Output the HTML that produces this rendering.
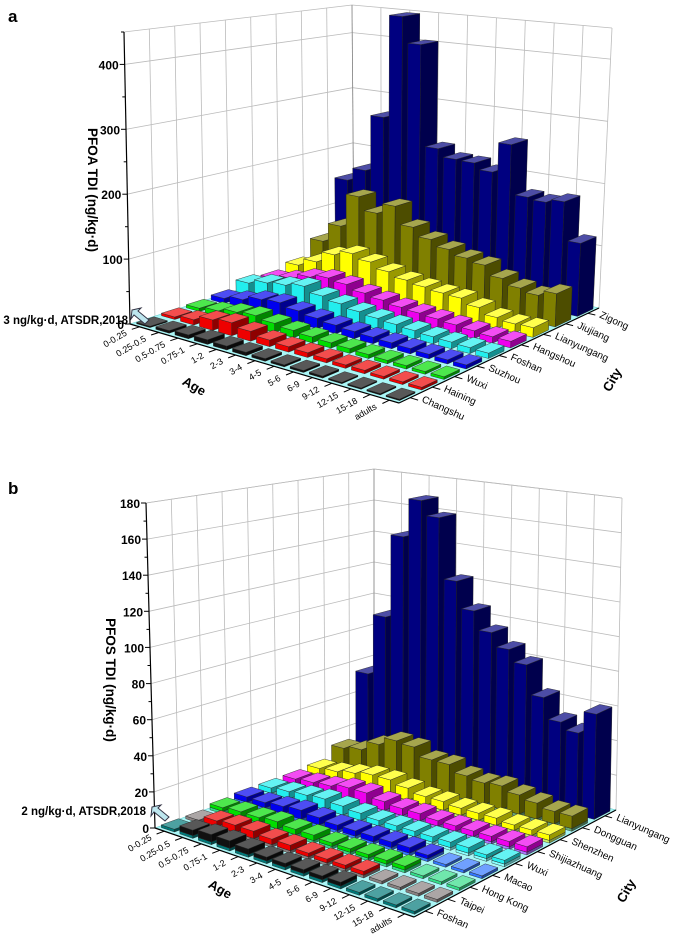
<!DOCTYPE html>
<html><head><meta charset="utf-8"><style>
html,body{margin:0;padding:0;background:#fff}
svg{display:block;font-family:"Liberation Sans",Arial,sans-serif}
</style></head><body>
<svg id="fig" width="685" height="936" viewBox="0 0 685 936" xmlns="http://www.w3.org/2000/svg">
<text x="8" y="22" font-size="17" font-weight="bold">a</text>
<text x="8" y="494" font-size="17" font-weight="bold">b</text>
<g id="chartA"></g>
<g id="chartB"></g>
</svg>
<script>
// ---------- shared categories ----------
const ages = ['0-0.25','0.25-0.5','0.5-0.75','0.75-1','1-2','2-3','3-4','4-5','5-6','6-9','9-12','12-15','15-18','adults'];

// ---------- chart a (PFOA) ----------
const citiesA = ['Changshu','Haining','Wuxi','Suzhou','Foshan','Hangshou','Lianyungang','Jiujiang','Zigong'];
const colorsA = ['#111111','#ee0000','#00dd00','#0000ee','#22eeee','#ee00ee','#ffff00','#808000','#000080'];
const pfoaChangshu = [2,4,6,7,6,5,4,3,3,3,2,2,2,2];
const pfoaHaining = [4,8,16,20,15,10,8,7,6,5,5,4,4,4];
const pfoaWuxi = [5,9,15,18,14,11,9,8,7,6,5,5,4,4];
const pfoaSuzhou = [8,14,22,25,20,16,13,11,10,9,8,7,6,6];
const pfoaFoshan = [20,28,32,38,30,25,20,17,15,13,11,10,9,8];
const pfoaHangshou = [15,22,32,38,35,28,24,20,18,16,14,12,10,10];
const pfoaLianyungang = [24,37,56,65,58,49,42,38,35,34,26,17,14,15];
const pfoaJiujiang = [52,85,142,120,138,109,95,85,77,72,57,48,43,52];
const pfoaZigong = [147,170,268,447,402,229,216,215,205,255,174,171,177,116];
const ticksA = [0,100,200,300,400];

// ---------- chart b (PFOS) ----------
const citiesB = ['Foshan','Taipei','Hong Kong','Macao','Wuxi','Shijiazhuang','Shenzhen','Dongguan','Lianyungang'];
const colorsB = ['#111111','#ee0000','#00dd00','#0000ee','#22eeee','#ee00ee','#ffff00','#808000','#000080'];
const baseColorsB = ['#007878','#888080','#33dd88','#3377ff','#88ffff','#aa77ff','#ccee66','#66aa77','#000080'];
const baseValsB = [1.5,1.5,1.5,1.5,1.5,1.5,1.5,1.5,0];
const pfosFoshan = [0,3,4,4,3,2,2,2,2,2,0,0,0,0];
const pfosTaipei = [0,3,4,4,3,3,2,2,2,2,0,0,0,0];
const pfosHongKong = [2,3,3,4,3,3,2,2,2,2,2,0,0,0];
const pfosMacao = [3,3,4,5,4,3,3,3,3,3,2,0,0,0];
const pfosWuxi = [3,4,5,6,5,4,3,3,3,3,3,3,2,2];
const pfosShijiazhuang = [3,4,5,7,7,5,4,4,3,3,3,3,3,3];
const pfosShenzhen = [4,5,7,9,9,7,5,5,4,4,4,3,3,3];
const pfosDongguan = [11,13,19,24,23,18,18,14,12.5,13.5,11,9,7,7];
const pfosLianyungang = [54,92,144,168,159,122,106,95,87,80,63,51,47,60];
const ticksB = [0,20,40,60,80,100,120,140,160,180];

const seriesA = [pfoaChangshu,pfoaHaining,pfoaWuxi,pfoaSuzhou,pfoaFoshan,pfoaHangshou,pfoaLianyungang,pfoaJiujiang,pfoaZigong];
const seriesB = [pfosFoshan,pfosTaipei,pfosHongKong,pfosMacao,pfosWuxi,pfosShijiazhuang,pfosShenzhen,pfosDongguan,pfosLianyungang];

const NS='http://www.w3.org/2000/svg';
function mk(parent,tag,attrs){const e=document.createElementNS(NS,tag);for(const k in attrs)e.setAttribute(k,attrs[k]);parent.appendChild(e);return e;}
function bil(c,u,v){return [c[0][0]*(1-u)*(1-v)+c[1][0]*u*(1-v)+c[2][0]*u*v+c[3][0]*(1-u)*v,
                         c[0][1]*(1-u)*(1-v)+c[1][1]*u*(1-v)+c[2][1]*u*v+c[3][1]*(1-u)*v];}
function shade(hex,f){const n=parseInt(hex.slice(1),16);let r=n>>16,g=(n>>8)&255,b=n&255;
  if(f<1){r*=f;g*=f;b*=f;}else{const t=f-1;r=r+(255-r)*t;g=g+(255-g)*t;b=b+(255-b)*t;}
  return 'rgb('+Math.round(r)+','+Math.round(g)+','+Math.round(b)+')';}
function pts(a){return a.map(p=>p[0].toFixed(1)+','+p[1].toFixed(1)).join(' ');}

function drawChart(g,cfg){
  const P=(u,v,z)=>{const f=bil(cfg.floor,u,v),t=bil(cfg.top,u,v);return [f[0]+(t[0]-f[0])*z,f[1]+(t[1]-f[1])*z];};
  const zs=val=>val/cfg.max;
  const nI=ages.length,nJ=cfg.cities.length;
  const wall=mk(g,'g',{});
  
  
  const line=(a,b,st,w)=>mk(wall,'line',{x1:a[0].toFixed(1),y1:a[1].toFixed(1),x2:b[0].toFixed(1),y2:b[1].toFixed(1),stroke:st,'stroke-width':w});
  for(const t of cfg.ticks.concat([cfg.max])){ if(t===0)continue;
    line(P(0,0,zs(t)),P(0,1,zs(t)),'#bbb',0.8); line(P(0,1,zs(t)),P(1,1,zs(t)),'#bbb',0.8);}
  for(let k=1;k<=nJ;k++){line(P(0,k/nJ,0),P(0,k/nJ,1),'#bbb',0.8);}
  for(let k=1;k<=9;k++){line(P(k/9,1,0),P(k/9,1,1),'#bbb',0.8);}
  line(P(0,1,0),P(0,1,1),'#888',0.8);
  const fl=mk(g,'polygon',{points:pts([P(0,0,0),P(1,0,0),P(1,1,0),P(0,1,0)]),fill:'#aaf6f6',stroke:'#6cc',"stroke-width":0.6});
  
  
  for(let i=1;i<nI;i++){line(P(i/nI,0,0),P(i/nI,1,0),'#8dd',0.5);}
  for(let j=1;j<nJ;j++){line(P(0,j/nJ,0),P(1,j/nJ,0),'#8dd',0.5);}
  const bars=mk(g,'g',{});
  
  
  const box=(i,j,z0,z1,col,name)=>{
    const u0=(i+0.15)/nI,u1=(i+0.85)/nI,v0=(j+0.15)/nJ,v1=(j+0.85)/nJ;
    const bg=mk(bars,'g',{});
    
    
    mk(bg,'polygon',{points:pts([P(u0,v0,z0),P(u1,v0,z0),P(u1,v0,z1),P(u0,v0,z1)]),fill:col,stroke:'#222','stroke-width':0.4});
    mk(bg,'polygon',{points:pts([P(u1,v0,z0),P(u1,v1,z0),P(u1,v1,z1),P(u1,v0,z1)]),fill:shade(col,0.6),stroke:'#222','stroke-width':0.4});
    mk(bg,'polygon',{points:pts([P(u0,v0,z1),P(u1,v0,z1),P(u1,v1,z1),P(u0,v1,z1)]),fill:shade(col,1.3),stroke:'#222','stroke-width':0.4});
  };
  for(let j=nJ-1;j>=0;j--){for(let i=0;i<nI;i++){
    const b=cfg.base?cfg.base[j]:0, m=cfg.series[j][i];
    if(b>0) box(i,j,0,zs(b),cfg.baseColors[j],'bar-base-'+j+'-'+i);
    if(m>0) box(i,j,zs(b),zs(b+m),cfg.colors[j],'bar-'+j+'-'+i);
  }}
  const ax=mk(g,'g',{});
  
  
  const al=(a,b,w)=>mk(ax,'line',{x1:a[0].toFixed(1),y1:a[1].toFixed(1),x2:b[0].toFixed(1),y2:b[1].toFixed(1),stroke:'#000','stroke-width':w});
  al(P(0,0,0),P(0,0,1),1.2); al(P(0,0,0),P(1,0,0),1.2); al(P(1,0,0),P(1,1,0),1.2);
  for(let t=0;t<=cfg.max;t+=cfg.minor){const p=P(0,0,zs(t));al(p,[p[0]-(cfg.ticks.includes(t)?5:3),p[1]],1);}
  for(const t of cfg.ticks){const p=P(0,0,zs(t));
    const tx=mk(ax,'text',{x:(p[0]-6).toFixed(1),y:(p[1]+5).toFixed(1),'font-size':12,'text-anchor':'end','font-weight':'bold'});
    
    
    tx.textContent=t;}
  for(let i=0;i<nI;i++){const a=P((i+0.5)/nI,0,0),b=P((i+0.5)/nI,-0.035,0);al(a,b,1);
    const cx=a[0]-12,cy=a[1]+8;
    const tx=mk(ax,'text',{x:cx.toFixed(1),y:cy.toFixed(1),'font-size':9,'text-anchor':'end',transform:'rotate(-30 '+cx.toFixed(1)+' '+cy.toFixed(1)+')'});
    
    
    tx.textContent=ages[i];}
  for(let j=0;j<nJ;j++){const a=P(1,(j+0.5)/nJ,0),b=P(1.03,(j+0.5)/nJ,0);al(a,b,1);
    const cx=a[0]+11,cy=a[1]+4;
    const tx=mk(ax,'text',{x:cx.toFixed(1),y:cy.toFixed(1),'font-size':10,'text-anchor':'start',transform:'rotate(24 '+cx.toFixed(1)+' '+cy.toFixed(1)+')'});
    
    
    tx.textContent=cfg.cities[j];}
  const mkT=(x,y,rot,txt,size,name)=>{const t=mk(ax,'text',{x:x,y:y,'font-size':size,'font-weight':'bold','text-anchor':'middle',transform:'rotate('+rot+' '+x+' '+y+')'});
    
    
    t.textContent=txt;return t;};
  mkT(cfg.ageT[0],cfg.ageT[1],30,'Age',13,'age-axis-title');
  mkT(cfg.cityT[0],cfg.cityT[1],-60,'City',13,'city-axis-title');
  mkT(cfg.yT[0],cfg.yT[1],90,cfg.yTitle,13.5,'y-axis-title');
  const an=mk(ax,'text',{x:cfg.ann[0],y:cfg.ann[1],'font-size':11.5,'font-weight':'bold','text-anchor':'end'});
  
  
  an.textContent=cfg.annText;
  const ax0=cfg.arrow[0],ay0=cfg.arrow[1];
  const ar=mk(ax,'polygon',{points:pts([[ax0,ay0],[ax0+9,ay0-2],[ax0+6,ay0+1],[ax0+17,ay0+10],[ax0+13,ay0+14],[ax0+2,ay0+5],[ax0-1,ay0+9]]),fill:'#bde6ee',stroke:'#334','stroke-width':1});
  
  
}

drawChart(document.getElementById('chartA'),{
  floor:[[130,324],[399,403],[599,308],[354,253]],
  top:[[124,32],[405,88],[612,28],[352,5]],
  max:450,minor:50,ticks:ticksA,cities:citiesA,series:seriesA,colors:colorsA,
  ageT:[192,390],cityT:[616,382],yT:[88,190],yTitle:'PFOA TDI (ng/kg·d)',
  ann:[128,324],annText:'3 ng/kg·d, ATSDR,2018',arrow:[132,310]
});
drawChart(document.getElementById('chartB'),{
  floor:[[155,828],[414,917],[616,810],[374,748]],
  top:[[146,503],[420,566],[622,498],[374,469]],
  max:180,minor:10,ticks:ticksB,cities:citiesB,series:seriesB,colors:colorsB,base:baseValsB,baseColors:baseColorsB,
  ageT:[218,893],cityT:[630,893],yT:[106,680],yTitle:'PFOS TDI (ng/kg·d)',
  ann:[146,815],annText:'2 ng/kg·d, ATSDR,2018',arrow:[152,807]
});
</script>
</body></html>
